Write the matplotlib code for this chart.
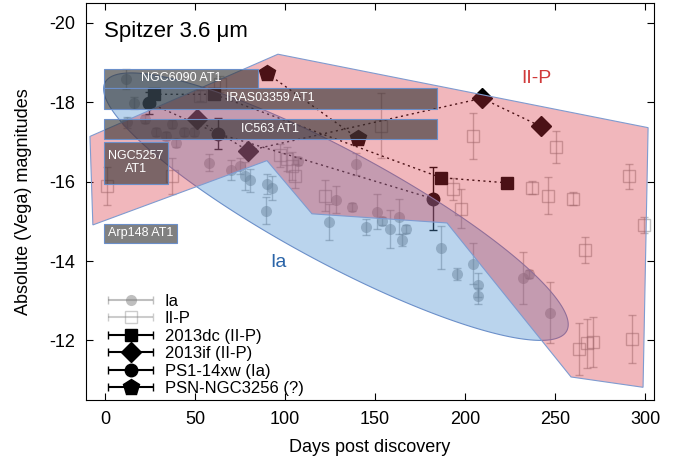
import numpy as np
import matplotlib
matplotlib.use('Agg')
import matplotlib.pyplot as plt
from matplotlib.patches import Polygon, Rectangle
from matplotlib.container import ErrorbarContainer
from matplotlib.legend_handler import HandlerErrorbar

plt.rcParams['font.family'] = ['Liberation Sans', 'DejaVu Sans']
plt.rcParams['axes.unicode_minus'] = False

# ---- Ia comparison sample (days, abs mag, error) ----
ia_days = [11.7, 16.1, 12.2, 22.2, 28.3, 37.2, 33.9, 39.4, 43.9, 49.4,
           57.8, 70.0, 75.0, 77.8, 80.6, 90.0, 92.8, 89.4, 107.2, 139.4,
           128.3, 137.2, 124.4, 145.0, 151.1, 153.9, 158.3, 163.3, 167.2, 165.0,
           186.7, 195.6, 204.4, 207.2, 207.2, 232.2, 235.6, 247.2]
ia_mag = [-18.58, -17.99, -17.49, -17.57, -17.26, -17.46, -17.16, -16.98, -17.24, -17.24,
          -16.48, -16.30, -16.40, -16.15, -16.03, -15.95, -15.85, -15.27, -16.53, -16.45,
          -15.55, -15.37, -14.99, -14.86, -15.24, -15.02, -14.80, -15.12, -14.81, -14.54,
          -14.34, -13.68, -13.93, -13.40, -13.11, -13.58, -13.68, -12.70]
ia_err = [0.25, 0.15, 0.15, 0.1, 0.1, 0.1, 0.1, 0.1, 0.1, 0.1,
          0.22, 0.25, 0.2, 0.35, 0.3, 0.25, 0.3, 0.34, 0.1, 0.28,
          0.35, 0.1, 0.45, 0.2, 0.44, 0.1, 0.48, 0.45, 0.1, 0.15,
          0.55, 0.15, 0.52, 0.3, 0.2, 0.65, 0.1, 0.76]

# ---- II-P comparison sample ----
iip_days = [1.1, 37.2, 52.8, 63.9, 97.2, 101.1, 103.9, 105.6, 122.2, 153.3,
            193.3, 197.8, 204.4, 237.2, 246.1, 250.6, 260.0, 291.1, 299.4, 266.7,
            263.3, 267.8, 271.1, 292.8]
iip_mag = [-15.90, -16.15, -18.17, -18.45, -16.66, -16.58, -16.40, -16.15, -15.65, -17.41,
           -15.82, -15.32, -17.16, -15.85, -15.65, -16.88, -15.57, -16.13, -14.91, -14.28,
           -11.78, -11.93, -11.96, -12.04]
iip_err = [0.48, 0.45, 0.15, 0.2, 0.3, 0.3, 0.35, 0.3, 0.38, 0.82,
           0.28, 0.5, 0.58, 0.17, 0.47, 0.4, 0.17, 0.32, 0.2, 0.33,
           0.65, 0.62, 0.62, 0.6]

# ---- individual transients ----
sn2013dc_days = [27.2, 60.6, 186.7, 223.3]
sn2013dc_mag = [-18.20, -18.20, -16.10, -15.97]
sn2013dc_err = [0.08, 0.08, 0.12, 0.1]

sn2013if_days = [51.1, 79.4, 209.4, 242.2]
sn2013if_mag = [-17.57, -16.78, -18.10, -17.39]
sn2013if_err = [0.08, 0.08, 0.08, 0.08]

ps1_days = [24.4, 62.8, 182.2]
ps1_mag = [-17.99, -17.21, -15.57]
ps1_err = [0.28, 0.4, 0.8]

psn_days = [90.0, 140.6]
psn_mag = [-18.73, -17.09]
psn_err = [0.08, 0.08]

# ---- shaded regions ----
iip_region_days = [-8.3, 96.1, 301.7, 298.9, 258.9, 190.0, 115.0, 90.0, -6.7]
iip_region_mag = [-17.14, -19.21, -17.36, -10.82, -11.08, -14.96, -15.19, -16.53, -14.91]
ia_region_center = (128.3, -15.37)
ia_region_major = (128.2, 3.13)
ia_region_minor = (-14.7, 1.245)

# ---- SPIRITS event boxes ----
box_labels = ['NGC6090 AT1', 'IRAS03359 AT1', 'IC563 AT1', 'NGC5257\nAT1', 'Arp148 AT1']
box_start = [-0.5, -0.5, -0.5, -0.5, -0.5]
box_end = [85.0, 184.4, 184.4, 35.0, 40.0]
box_bright = [-18.85, -18.35, -17.59, -17.01, -14.94]
box_faint = [-18.35, -17.84, -17.08, -15.95, -14.46]

fig = plt.figure(figsize=(6.86, 4.62), dpi=100)
ax = fig.add_axes([0.1254, 0.1342, 0.828, 0.8593])

gray = (0.5, 0.5, 0.5, 0.5)
ebkw = dict(capsize=3, elinewidth=1, capthick=1, zorder=2)

ax.errorbar(ia_days, ia_mag, yerr=ia_err, fmt='o', ms=8, color=gray, mec='none', **ebkw)
ax.errorbar(iip_days, iip_mag, yerr=iip_err, fmt='s', ms=8, mfc='none', mec=gray,
            ecolor=gray, mew=1, **ebkw)

dots = (0, (1.5, 2.5))
blk = dict(color='black', capsize=3, elinewidth=1, capthick=1, zorder=2.5)
ax.errorbar(sn2013dc_days, sn2013dc_mag, yerr=sn2013dc_err, fmt='s', ms=9, **blk)
ax.plot(sn2013dc_days, sn2013dc_mag, ls=dots, color='black', lw=1, zorder=2.5)
ax.errorbar(sn2013if_days, sn2013if_mag, yerr=sn2013if_err, fmt='D', ms=10, **blk)
ax.plot(sn2013if_days, sn2013if_mag, ls=dots, color='black', lw=1, zorder=2.5)
ax.errorbar(ps1_days, ps1_mag, yerr=ps1_err, fmt='o', ms=9, **blk)
ax.plot(ps1_days, ps1_mag, ls=dots, color='black', lw=1, zorder=2.5)
ax.errorbar(psn_days, psn_mag, yerr=psn_err, fmt='p', ms=12, **blk)
ax.plot(psn_days, psn_mag, ls=dots, color='black', lw=1, zorder=2.5)

# Ia region (ellipse) and II-P region (polygon)
t = np.linspace(0, 2 * np.pi, 300)
ex = ia_region_center[0] + ia_region_major[0] * np.cos(t) + ia_region_minor[0] * np.sin(t)
ey = ia_region_center[1] + ia_region_major[1] * np.cos(t) + ia_region_minor[1] * np.sin(t)
ax.add_patch(Polygon(np.column_stack([ex, ey]), closed=True,
                     facecolor=(0.29, 0.56, 0.82, 0.38), edgecolor='#6b8fc9', lw=0.8, zorder=3))
ax.add_patch(Polygon(np.column_stack([iip_region_days, iip_region_mag]), closed=True,
                     facecolor=(0.85, 0.2, 0.25, 0.35), edgecolor='#7f9bd0', lw=0.8, zorder=4))

for lab, x0, x1, yb, yf in zip(box_labels, box_start, box_end, box_bright, box_faint):
    ax.add_patch(Rectangle((x0, yb), x1 - x0, yf - yb, facecolor=(0.2, 0.2, 0.2, 0.62),
                           edgecolor='#6b8fc9', lw=0.8, zorder=5))
    ax.text((x0 + x1) / 2, (yb + yf) / 2, lab, color='white', fontsize=9,
            ha='center', va='center', zorder=6, linespacing=1.1)

ax.text(239.8, -18.61, 'II-P', color='#d03a3a', fontsize=14, ha='center', va='center', zorder=6)
ax.text(96.1, -13.96, 'Ia', color='#2a64a8', fontsize=14, ha='center', va='center', zorder=6)
ax.text(0.032, 0.929, 'Spitzer 3.6 \u03bcm', transform=ax.transAxes, fontsize=16,
        ha='left', va='center', zorder=6)

ax.set_xlim(-10.5, 305)
ax.set_ylim(-10.5, -20.5)
ax.set_xticks([0, 50, 100, 150, 200, 250, 300])
ax.set_yticks([-20, -18, -16, -14, -12])
ax.tick_params(direction='in', top=True, right=True, length=5, labelsize=13, pad=8)
ax.set_xlabel('Days post discovery', fontsize=13, labelpad=8)
ax.set_ylabel('Absolute (Vega) magnitudes', fontsize=13, labelpad=12)

# legend proxies (horizontal bars, gnuplot-like)
nan = [np.nan]
h_ia = ax.errorbar(nan, nan, xerr=[1], fmt='o', ms=8, color=(0.5, 0.5, 0.5, 0.5), mec='none', capsize=3)
h_iip = ax.errorbar(nan, nan, xerr=[1], fmt='s', ms=8, mfc='none', mec=(0.5, 0.5, 0.5, 0.4),
                    ecolor=(0.5, 0.5, 0.5, 0.4), capsize=3)
h_dc = ax.errorbar(nan, nan, xerr=[1], fmt='s', ms=9, color='black', capsize=3)
h_if = ax.errorbar(nan, nan, xerr=[1], fmt='D', ms=10, color='black', capsize=3)
h_ps = ax.errorbar(nan, nan, xerr=[1], fmt='o', ms=9, color='black', capsize=3)
h_psn = ax.errorbar(nan, nan, xerr=[1], fmt='p', ms=12, color='black', capsize=3)
leg = ax.legend([h_ia, h_iip, h_dc, h_if, h_ps, h_psn],
                ['Ia', 'II-P', '2013dc (II-P)', '2013if (II-P)', 'PS1-14xw (Ia)', 'PSN-NGC3256 (?)'],
                loc='upper left', bbox_to_anchor=(0.0387, 0.268), frameon=False,
                fontsize=12, handlelength=2.7, handletextpad=0.7, labelspacing=0.15,
                borderpad=0, borderaxespad=0,
                handler_map={ErrorbarContainer: HandlerErrorbar(xerr_size=1.35)})
leg.set_zorder(7)

fig.savefig('out.png', dpi=100)
